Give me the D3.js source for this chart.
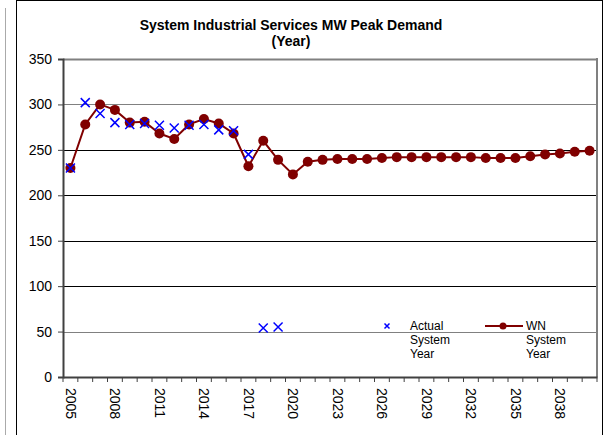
<!DOCTYPE html>
<html>
<head>
<meta charset="utf-8">
<script src="https://d3js.org/d3.v7.min.js"></script>
<style>
    body { margin: 0; background: #fff; }
    svg { display: block; font-family: Arial, "Liberation Sans", sans-serif; }
</style>
</head>
<body>
<svg id="chart"></svg>
<script>
    // years on the category axis
    var years = d3.range(2005, 2041);
    var tickYears = [2005, 2008, 2011, 2014, 2017, 2020, 2023, 2026, 2029, 2032, 2035, 2038];
    var yTicks = [0, 50, 100, 150, 200, 250, 300, 350];

    // WN System Year (weather normalised)
    var wnValues = [230, 278, 300, 294, 280, 281, 268, 262, 278, 284, 279, 268,
                    232, 260, 239, 223, 237, 239, 240, 240, 240, 241, 242, 242,
                    242, 242, 242, 242, 241, 241, 241, 243, 245, 246, 248, 249];

    // Actual System Year (null = no point)
    var actualValues = [230, 302, 290, 280, 278, 279, 277, 274, 277, 278, 272, 271,
                        245, 54, 55, null, null, null, null, null, null, null, null, null,
                        null, null, null, null, null, null, null, null, null, null, null, null];

    var screen = {width: 608, height: 435};
    var plot = {left: 63, right: 597, top: 59, bottom: 377};

    var svg = d3.select("#chart")
        .attr("width", screen.width)
        .attr("height", screen.height);

    // frames
    svg.append("line").attr("x1", 5.5).attr("x2", 5.5).attr("y1", 8).attr("y2", 435)
        .attr("stroke", "#aaa").attr("stroke-width", 1);
    svg.append("rect").attr("x", 16.5).attr("y", 0.5).attr("width", 586).attr("height", 440)
        .attr("fill", "none").attr("stroke", "#000").attr("stroke-width", 1);

    var x = d3.scaleBand().domain(years).range([plot.left, plot.right]).padding(0);
    var y = d3.scaleLinear().domain([0, 350]).range([plot.bottom, plot.top]);

    // gridlines
    svg.append("g").selectAll("line")
        .data(yTicks.slice(1))
        .enter().append("line")
        .attr("x1", plot.left).attr("x2", plot.right)
        .attr("y1", function(d){ return Math.round(y(d)) + 0.5; })
        .attr("y2", function(d){ return Math.round(y(d)) + 0.5; })
        .attr("stroke", function(d){ return (d == 300 || d == 50 || d == 350) ? "#808080" : "#000"; })
        .attr("stroke-width", function(d){ return d == 350 ? 2 : 1; });

    // right border of plot area
    svg.append("line").attr("x1", plot.right).attr("x2", plot.right)
        .attr("y1", plot.top - 1).attr("y2", plot.bottom)
        .attr("stroke", "#808080").attr("stroke-width", 2);

    // y axis
    var yAxis = svg.append("g")
        .attr("transform", "translate(" + plot.left + ",0)")
        .call(d3.axisLeft(y).tickValues(yTicks).tickSize(5).tickPadding(6));
    yAxis.select(".domain").attr("stroke", "#404040").attr("stroke-width", 2);
    yAxis.selectAll(".tick line").attr("stroke", "#404040");
    yAxis.selectAll("text").attr("font-size", 14).attr("fill", "#000")
        .attr("font-family", "Arial, 'Liberation Sans', sans-serif");

    // x axis labels
    var xAxis = svg.append("g")
        .attr("transform", "translate(0," + plot.bottom + ")")
        .call(d3.axisBottom(x).tickValues(tickYears).tickSize(0));
    xAxis.select(".domain").attr("stroke", "#404040").attr("stroke-width", 2);
    xAxis.selectAll("text")
        .attr("font-size", 14).attr("fill", "#000")
        .attr("font-family", "Arial, 'Liberation Sans', sans-serif")
        .attr("text-anchor", "start")
        .attr("transform", "rotate(90)")
        .attr("x", 11).attr("y", 0).attr("dy", "0.35em");

    // x tick marks between categories
    svg.append("g").selectAll("line")
        .data(years.concat([null]))
        .enter().append("line")
        .attr("x1", function(d){ return d == null ? plot.right : x(d); })
        .attr("x2", function(d){ return d == null ? plot.right : x(d); })
        .attr("y1", plot.bottom).attr("y2", plot.bottom + 5)
        .attr("stroke", "#404040");

    var cx = function(i){ return x(years[i]) + x.bandwidth() / 2; };

    // WN series
    var wnColor = "#800000";
    var line = d3.line()
        .x(function(d, i){ return cx(i); })
        .y(function(d){ return y(d); });
    svg.append("path")
        .datum(wnValues)
        .attr("d", line)
        .attr("fill", "none")
        .attr("stroke", wnColor)
        .attr("stroke-width", 2);
    svg.append("g").selectAll("circle")
        .data(wnValues)
        .enter().append("circle")
        .attr("cx", function(d, i){ return cx(i); })
        .attr("cy", function(d){ return y(d); })
        .attr("r", 5)
        .attr("fill", wnColor);

    // Actual series (x markers)
    var cross = function(g, s, w) {
        g.append("path")
            .attr("d", "M" + (-s) + "," + (-s) + "L" + s + "," + s + "M" + (-s) + "," + s + "L" + s + "," + (-s))
            .attr("stroke", "#0000ff").attr("stroke-width", w).attr("fill", "none");
    };
    var actualPts = [];
    actualValues.forEach(function(v, i){ if (v != null) actualPts.push({i: i, v: v}); });
    svg.append("g").selectAll("g")
        .data(actualPts)
        .enter().append("g")
        .attr("transform", function(d){ return "translate(" + cx(d.i) + "," + y(d.v) + ")"; })
        .each(function(){ cross(d3.select(this), 4.5, 1.5); });

    // legend
    var legend = svg.append("g").attr("font-size", 12).attr("fill", "#000");
    cross(legend.append("g").attr("transform", "translate(387,326)"), 2.5, 1.5);
    ["Actual", "System", "Year"].forEach(function(t, k){
        legend.append("text").attr("x", 410).attr("y", 330 + k * 14).text(t);
    });
    legend.append("line").attr("x1", 485).attr("x2", 523).attr("y1", 326).attr("y2", 326)
        .attr("stroke", wnColor).attr("stroke-width", 2);
    legend.append("circle").attr("cx", 503).attr("cy", 326).attr("r", 3.5).attr("fill", wnColor);
    ["WN", "System", "Year"].forEach(function(t, k){
        legend.append("text").attr("x", 526).attr("y", 330 + k * 14).text(t);
    });

    // title
    var title = svg.append("g").attr("font-size", 14).attr("font-weight", "bold").attr("text-anchor", "middle");
    title.append("text").attr("x", 291).attr("y", 30).text("System Industrial Services MW Peak Demand");
    title.append("text").attr("x", 291).attr("y", 46).text("(Year)");
</script>
</body>
</html>
